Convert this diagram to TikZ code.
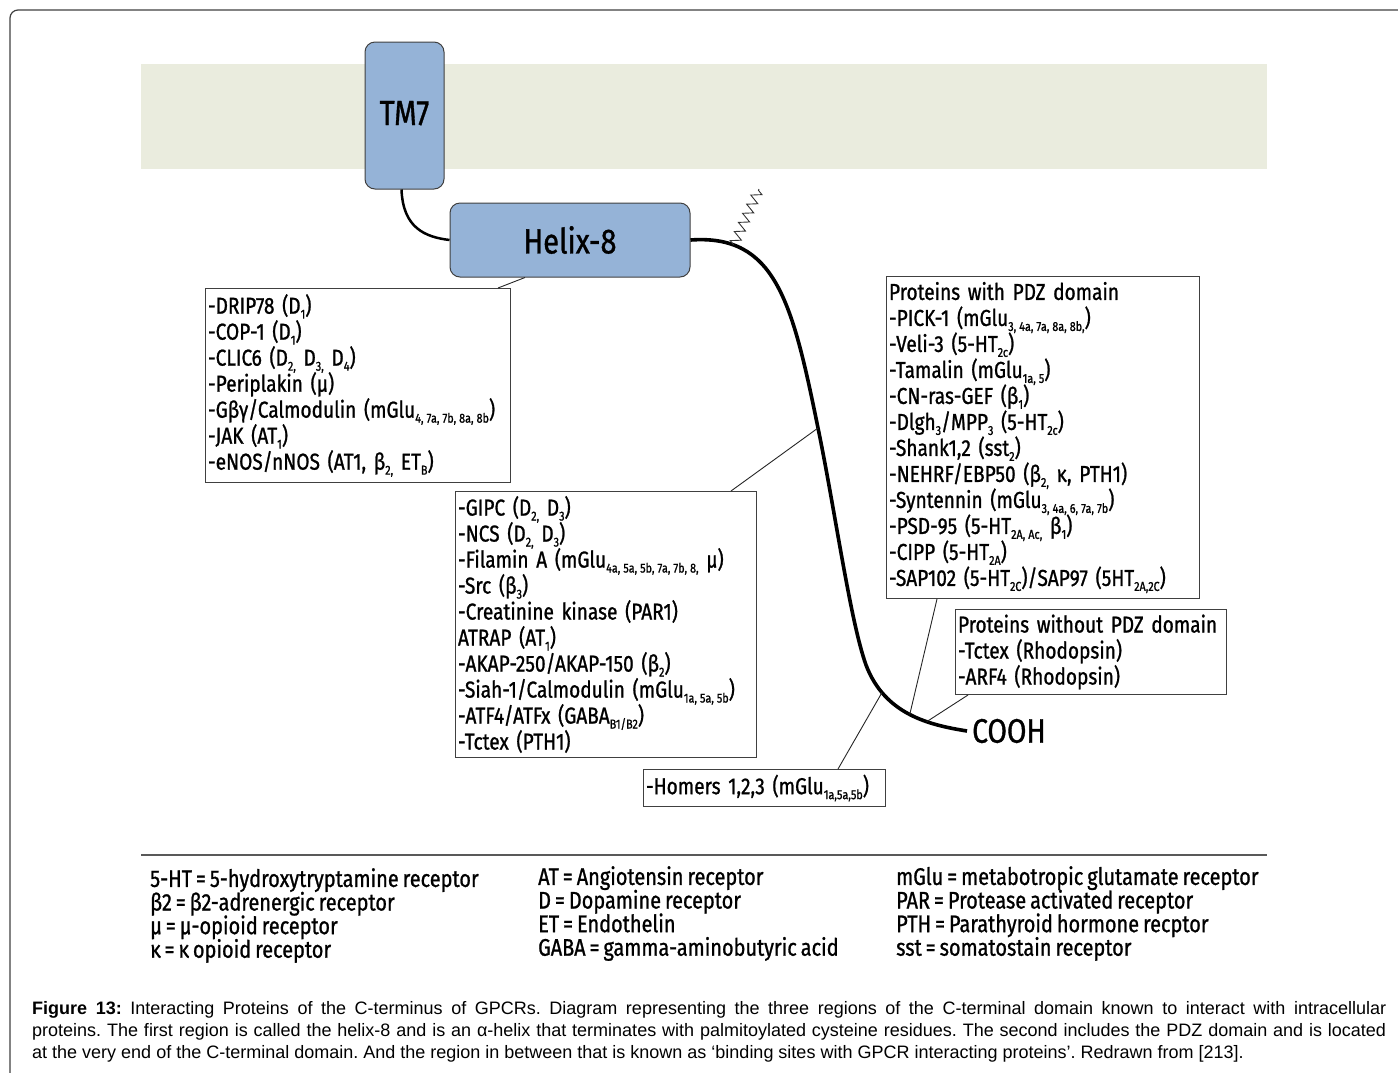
\documentclass[tikz,border=0pt]{standalone}
\usepackage{fontspec}
\setmainfont{Liberation Sans}
\newfontfamily\cond[FakeStretch=0.83, FakeBold=1, WordSpace=0.75]{Fira Sans}
\usetikzlibrary{positioning,calc,decorations.pathmorphing}
\definecolor{membrane}{RGB}{234,236,222}
\definecolor{helixblue}{RGB}{149,179,215}
\newcommand{\lo}[1]{\raisebox{-5pt}{\fontsize{13}{13}\selectfont\spaceskip=3pt\relax #1}}
\newcommand{\tightlines}{\lineskiplimit=-8pt\relax}

\begin{document}
\begin{tikzpicture}[x=1pt,y=-1pt,
	domainbox/.style={draw=black!75, line width=1pt, fill=helixblue, rounded corners=10pt, font=\cond\fontsize{35}{35}\selectfont},
	listbox/.style={draw=black!75, line width=1pt, fill=white, anchor=north west, inner xsep=2.5pt, inner ysep=2pt, align=left, font=\cond\fontsize{23}{26}\selectfont\tightlines},
	legendtext/.style={anchor=north west, inner sep=0pt, align=left, font=\cond\fontsize{24}{23.6}\selectfont\tightlines},
	linkline/.style={line width=0.9pt, black!85}]

		\useasboundingbox (0,0) rectangle (1398,1072);
		\draw[black!75, line width=1.2pt, rounded corners=8pt] (10,1100) -- (10,10) -- (1420,10); %Cornice

		\fill[membrane] (141,64) rectangle (1267,169); %Membrana

		\node[domainbox, minimum width=79pt, minimum height=147pt] (tm7) at (404.5,115.5) {\raisebox{5pt}{TM7}};
		\node[domainbox, minimum width=240pt, minimum height=74pt] (helix) at (570,240) {Helix-8};
		\node[anchor=west, inner sep=5pt, font=\cond\fontsize{34}{34}\selectfont] (cooh) at (967,731) {COOH};

		\draw[line width=2.5pt] ($(tm7.south)+(-3,0)$) .. controls (403,228) and (425,237) .. (helix.west);

		% coda C-terminale
		\draw[line width=3.6pt] (helix.east) .. controls (775,234) and (792,300) .. (818,428) coordinate[pos=0.2] (zs) coordinate (t1)
			.. controls (835,510) and (850,620) .. (866,665)
			.. controls (885,715) and (930,725) .. (cooh.west) coordinate[pos=0.22] (t2) coordinate[pos=0.5] (t3) coordinate[pos=0.65] (t4);

		\coordinate (zz) at (759,189);
		\draw[black!80, line width=0.9pt, decorate, decoration={zigzag, amplitude=5pt, segment length=10pt}] (zs) -- (zz); %Palmitoile

		\node[listbox, text width=300pt, minimum height=194pt] (box1) at (205,288) {-DRIP78 (D\lo{1})\\
			-COP-1 (D\lo{1})\\
			-CLIC6 (D\lo{2,} D\lo{3,} D\lo{4})\\
			-Periplakin (μ)\\
			-Gβγ/Calmodulin (mGlu\lo{4, 7a, 7b, 8a, 8b})\\
			-JAK (AT\lo{1})\\
			-eNOS/nNOS (AT1, β\lo{2,} ET\lo{B})};

		\node[listbox, text width=296pt, minimum height=266pt] (box2) at (455,491) {-GIPC (D\lo{2,} D\lo{3})\\
			-NCS (D\lo{2,} D\lo{3})\\
			-Filamin A (mGlu\lo{4a, 5a, 5b, 7a, 7b, 8,} μ)\\
			-Src (β\lo{3})\\
			-Creatinine kinase (PAR1)\\
			ATRAP (AT\lo{1})\\
			-AKAP-250/AKAP-150 (β\lo{2})\\
			-Siah-1/Calmodulin (mGlu\lo{1a, 5a, 5b})\\
			-ATF4/ATFx (GABA\lo{B1/B2})\\
			-Tctex (PTH1)};

		\node[listbox, text width=308pt, minimum height=322pt] (box3) at (886,276) {Proteins with PDZ domain\\
			-PICK-1 (mGlu\lo{3, 4a, 7a, 8a, 8b,})\\
			-Veli-3 (5-HT\lo{2c})\\
			-Tamalin (mGlu\lo{1a, 5})\\
			-CN-ras-GEF (β\lo{1})\\
			-Dlgh\lo{3}/MPP\lo{3} (5-HT\lo{2c})\\
			-Shank1,2 (sst\lo{2})\\
			-NEHRF/EBP50 (β\lo{2,} κ, PTH1)\\
			-Syntennin (mGlu\lo{3, 4a, 6, 7a, 7b})\\
			-PSD-95 (5-HT\lo{2A, Ac,} β\lo{1})\\
			-CIPP (5-HT\lo{2A})\\
			-SAP102 (5-HT\lo{2C})/SAP97 (5HT\lo{2A,2C})};

		\node[listbox, text width=266pt, minimum height=85pt] (box4) at (955,609) {Proteins without PDZ domain\\
			-Tctex (Rhodopsin)\\
			-ARF4 (Rhodopsin)};

		\node[listbox, text width=237pt, minimum height=37pt] (box5) at (643,769) {-Homers 1,2,3 (mGlu\lo{1a,5a,5b})};

		\draw[linkline] ($(box1.north east)+(-13,0)$) -- ($(helix.south)+(-45,0)$);
		\draw[linkline] ($(box2.north east)+(-26,0)$) -- (t1);
		\draw[linkline] ($(box5.north east)+(-48,0)$) -- (t2);
		\draw[linkline] ($(box3.south west)+(51,0)$) -- (t3);
		\draw[linkline] ($(box4.south west)+(13,0)$) -- (t4);

		% legenda
		\draw[black!65, line width=1.8pt] (141,855) -- (1267,855);
		\node[legendtext] (leg1) at (150,868) {5-HT = 5-hydroxytryptamine receptor\\ β2 = β2-adrenergic receptor\\ μ = μ-opioid receptor\\ κ = κ opioid receptor};
		\node[legendtext] (leg2) at (538,866) {AT = Angiotensin receptor\\ D = Dopamine receptor\\ ET = Endothelin\\ GABA = gamma-aminobutyric acid};
		\node[legendtext] (leg3) at (896,866) {mGlu = metabotropic glutamate receptor\\ PAR = Protease activated receptor\\ PTH = Parathyroid hormone recptor\\ sst = somatostain receptor};

		\node[anchor=north west, inner sep=0pt, text width=1354pt, align=justify, font=\fontsize{18}{22}\selectfont\frenchspacing] (caption) at (32,1001)
			{\textbf{Figure 13:} Interacting Proteins of the C-terminus of GPCRs. Diagram representing the three regions of the C-terminal domain known to interact with intracellular\linebreak
			proteins. The first region is called the helix-8 and is an α-helix that terminates with palmitoylated cysteine residues. The second includes the PDZ domain and is located\linebreak
			at the very end of the C-terminal domain. And the region in between that is known as ‘binding sites with GPCR interacting proteins’. Redrawn from [213].};

	\end{tikzpicture}
\end{document}
